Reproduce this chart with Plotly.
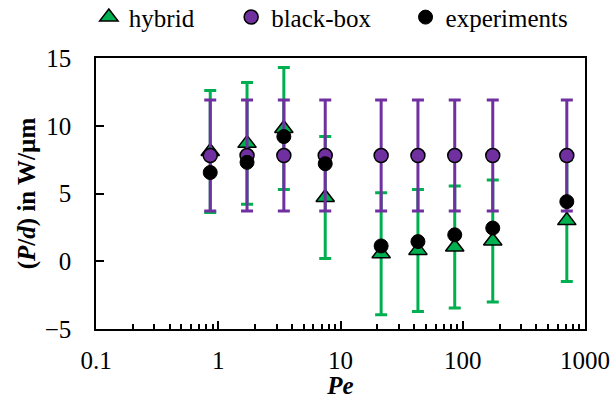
import plotly.graph_objects as go

pe = [0.86, 1.72, 3.44, 7.5, 21.5, 43, 86, 176, 710]
hybrid = [8.1, 8.7, 9.8, 4.7, 0.55, 0.8, 1.05, 1.5, 3.0]
hybrid_err = [4.5, 4.5, 4.5, 4.5, 4.5, 4.5, 4.5, 4.5, 4.5]
blackbox = [7.8, 7.8, 7.8, 7.8, 7.8, 7.8, 7.8, 7.8, 7.8]
blackbox_err = [4.1, 4.1, 4.1, 4.1, 4.1, 4.1, 4.1, 4.1, 4.1]
experiments = [6.55, 7.3, 9.2, 7.2, 1.13, 1.45, 1.95, 2.45, 4.4]

x_ticks = [0.1, 1, 10, 100, 1000]
x_ticktext = ["0.1", "1", "10", "100", "1000"]
y_ticks = [-5, 0, 5, 10, 15]

GREEN = "#00B050"
PURPLE = "#7030A0"
FONT = "Liberation Serif, Times New Roman, serif"

fig = go.Figure()
fig.add_trace(go.Scatter(
    x=pe, y=hybrid, mode="markers", name="hybrid", legend="legend",
    marker=dict(symbol="triangle-up", size=16, color=GREEN, line=dict(color="black", width=1.5)),
    error_y=dict(type="data", array=hybrid_err, visible=True, color=GREEN, thickness=3, width=6),
))
fig.add_trace(go.Scatter(
    x=pe, y=blackbox, mode="markers", name="black-box", legend="legend2",
    marker=dict(symbol="circle", size=14, color=PURPLE, line=dict(color="black", width=1.5)),
    error_y=dict(type="data", array=blackbox_err, visible=True, color=PURPLE, thickness=3, width=6),
))
fig.add_trace(go.Scatter(
    x=pe, y=experiments, mode="markers", name="experiments", legend="legend3",
    marker=dict(symbol="circle", size=14, color="black", line=dict(color="black", width=1)),
))

minor_vals = [m * 10 ** e for e in range(-1, 3) for m in range(2, 10)]

fig.update_xaxes(
    type="log", range=[-1, 3],
    tickvals=x_ticks, ticktext=x_ticktext,
    ticks="inside", ticklen=8, tickwidth=1.5, tickcolor="black",
    minor=dict(tickvals=minor_vals, ticks="inside", ticklen=5, tickwidth=1.5, tickcolor="black"),
    showline=True, linecolor="black", linewidth=1.5, mirror=True,
    showgrid=False, zeroline=False,
    tickfont=dict(family=FONT, size=25, color="black"),
    ticklabelstandoff=8,
    title=dict(text="<b><i>Pe</i></b>", font=dict(family=FONT, size=25, color="black"), standoff=7),
)
fig.update_yaxes(
    range=[-5, 15], tickvals=y_ticks,
    ticks="inside", ticklen=8, tickwidth=1.5, tickcolor="black",
    showline=True, linecolor="black", linewidth=1.5, mirror=True,
    showgrid=False, zeroline=False,
    tickfont=dict(family=FONT, size=25, color="black"),
    ticklabelstandoff=18,
    title=dict(text="<b>(<i>P</i>/<i>d</i>) in W/µm</b>", font=dict(family=FONT, size=25, color="black"), standoff=2),
)

leg_common = dict(orientation="h", yanchor="middle", y=1.15, xanchor="left",
                  font=dict(family=FONT, size=25, color="black"),
                  bgcolor="rgba(0,0,0,0)", borderwidth=0)
fig.update_layout(
    width=614, height=399,
    font=dict(family=FONT, size=25, color="black"),
    margin=dict(l=96, r=29, t=58, b=70, autoexpand=False),
    paper_bgcolor="white", plot_bgcolor="white",
    showlegend=True,
    legend=dict(x=-0.0146, **leg_common),
    legend2=dict(x=0.2764, **leg_common),
    legend3=dict(x=0.6330, **leg_common),
)

fig.write_html("out.html", config={"displayModeBar": False},
               post_script="document.body.style.margin='0';")
